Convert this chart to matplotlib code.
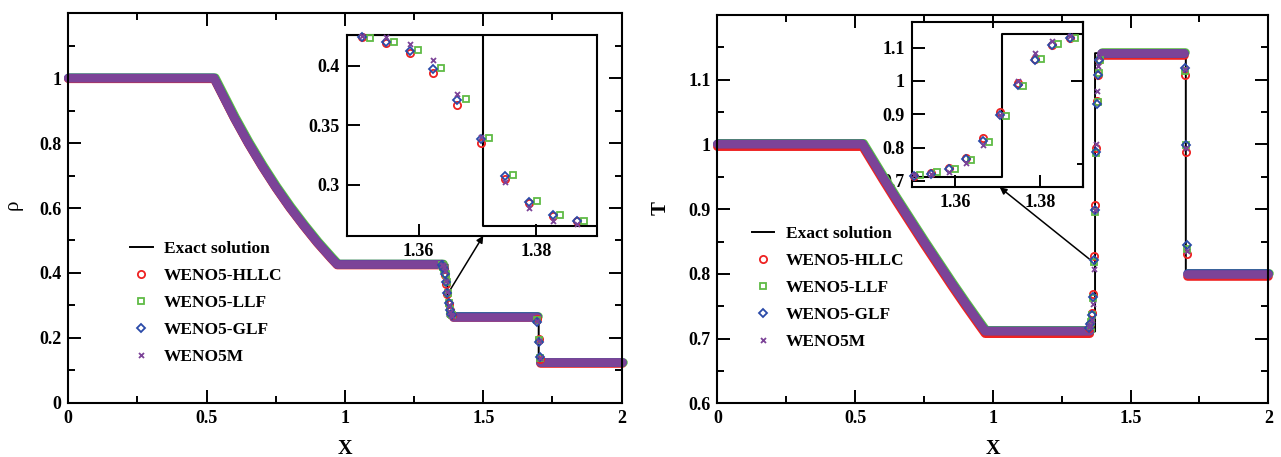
import matplotlib
matplotlib.use('Agg')
import matplotlib.pyplot as plt
import matplotlib.transforms as mtransforms
from matplotlib.lines import Line2D

# ---------------- data ----------------
schemes = ['WENO5-HLLC', 'WENO5-LLF', 'WENO5-GLF', 'WENO5M']

# smooth part (left state + rarefaction fan)
x_smooth = [0.0, 0.527, 0.60, 0.65, 0.70, 0.75, 0.80, 0.85, 0.90, 0.95, 0.972]
rho_smooth = [1.0, 1.0, 0.878, 0.801, 0.730, 0.664, 0.603, 0.547, 0.494, 0.446, 0.426]
T_smooth = [1.0, 1.0, 0.949, 0.915, 0.882, 0.849, 0.817, 0.785, 0.754, 0.724, 0.711]

# discontinuity locations and plateau states
x_contact = 1.371
x_shock = 1.7005
rho_plateau = [0.426, 0.2656, 0.125]
T_plateau = [0.711, 1.141, 0.800]

# where the smeared numerical profiles leave / rejoin the plateaus
band_breaks = [1.352, 1.392, 1.694, 1.706, 2.0]

# cells around the contact (also shown in the insets)
xc = [1.3504, 1.3544, 1.3585, 1.3625, 1.3666, 1.3706, 1.3747, 1.3788, 1.3828, 1.3869]
xc_llf = [1.3518, 1.3558, 1.3599, 1.3638, 1.3680, 1.3720, 1.3760, 1.3801, 1.3841, 1.3882]
rho_c_hllc = [0.4238, 0.4188, 0.4106, 0.3941, 0.3667, 0.3347, 0.3045, 0.2843, 0.2737, 0.2695]
rho_c_llf = [0.4230, 0.4196, 0.4129, 0.3980, 0.3720, 0.3395, 0.3084, 0.2860, 0.2748, 0.2695]
rho_c_glf = [0.4238, 0.4196, 0.4123, 0.3969, 0.3709, 0.3387, 0.3076, 0.2857, 0.2745, 0.2695]
rho_c_m = [0.4252, 0.4238, 0.4182, 0.4048, 0.3762, 0.3398, 0.3025, 0.2801, 0.2698, 0.2670]
T_c_hllc = [0.716, 0.723, 0.739, 0.769, 0.828, 0.906, 0.994, 1.067, 1.107, 1.130]
T_c_llf = [0.719, 0.726, 0.736, 0.763, 0.818, 0.895, 0.986, 1.065, 1.110, 1.130]
T_c_glf = [0.716, 0.722, 0.736, 0.765, 0.821, 0.898, 0.989, 1.063, 1.108, 1.130]
T_c_m = [0.718, 0.721, 0.728, 0.753, 0.808, 0.898, 1.000, 1.083, 1.121, 1.135]

# cells inside the shock
xs = [1.696, 1.700, 1.704]
rho_s_hllc = [0.258, 0.195, 0.135]
rho_s_llf = [0.256, 0.192, 0.138]
rho_s_glf = [0.250, 0.186, 0.140]
rho_s_m = [0.252, 0.190, 0.137]
T_s_hllc = [1.108, 0.989, 0.831]
T_s_llf = [1.113, 0.999, 0.839]
T_s_glf = [1.118, 0.999, 0.845]
T_s_m = [1.116, 0.994, 0.835]

# ---------------- style ----------------
plt.rcParams['font.family'] = ['Liberation Serif', 'DejaVu Serif']
plt.rcParams['font.weight'] = 'bold'

colors = {'WENO5-HLLC': '#ee2222', 'WENO5-LLF': '#5fbb45',
          'WENO5-GLF': '#2a4aa8', 'WENO5M': '#7c4398'}
mstyle = {'WENO5-HLLC': dict(marker='o', ms=5.2),
          'WENO5-LLF': dict(marker='s', ms=4.2),
          'WENO5-GLF': dict(marker='D', ms=4.4),
          'WENO5M': dict(marker='x', ms=3.6)}
TICK_FS = 13
LEG_FS = 12.5


def exact_profile(smooth_y, plateau):
    xe = list(x_smooth) + [x_contact, x_contact, x_shock, x_shock, 2.0]
    ye = list(smooth_y) + [plateau[0], plateau[1], plateau[1], plateau[2], plateau[2]]
    return xe, ye


def band_segments(smooth_y, plateau):
    segs = [(list(x_smooth) + [band_breaks[0]], list(smooth_y) + [plateau[0]]),
            ([band_breaks[1], band_breaks[2]], [plateau[1], plateau[1]]),
            ([band_breaks[3], band_breaks[4]], [plateau[2], plateau[2]])]
    return segs


def draw_markers(ax, cx, cy, sx, sy, name, clip=True):
    st = mstyle[name]
    kw = dict(ls='none', color=colors[name], mfc='none', mec=colors[name],
              mew=1.3, zorder=4, clip_on=clip, **st)
    ax.plot(cx, cy, **kw)
    if sx is not None:
        ax.plot(sx, sy, **kw)


def style_axes(ax, major=9.0, minor=4.5):
    for s in ax.spines.values():
        s.set_linewidth(1.5)
    ax.tick_params(which='both', direction='in', width=1.4, labelsize=TICK_FS, pad=5)
    ax.tick_params(which='major', length=major)
    ax.tick_params(which='minor', length=minor)


fig = plt.figure(figsize=(12.81, 4.57), dpi=100)

panels = [
    dict(rect=[0.0533, 0.1188, 0.4319, 0.8520], smooth=rho_smooth, plateau=rho_plateau,
         contact=[rho_c_hllc, rho_c_llf, rho_c_glf, rho_c_m],
         shock=[rho_s_hllc, rho_s_llf, rho_s_glf, rho_s_m],
         ylim=(0, 1.2), yticks=[0, 0.2, 0.4, 0.6, 0.8, 1.0],
         ylabels=['0', '0.2', '0.4', '0.6', '0.8', '1'],
         yminor=[0.1, 0.3, 0.5, 0.7, 0.9, 1.1],
         ylabel='ρ', ylab_pos=(-0.082, 0.508),
         offsets=[(0, -0.4), (0.9, 0.4), (0, 0.25), (0, 0)],
         inset=[0.2707, 0.4842, 0.1952, 0.4392],
         ixlim=(1.3478, 1.3903), iylim=(0.2571, 0.4258),
         iyticks=[0.3, 0.35, 0.4], iylabels=['0.3', '0.35', '0.4'],
         iright=None,
         arrow_tail=(1.380, 0.347), arrow_head=(1.371, 0.2571),
         leg=(0.1115, 0.415)),
    dict(rect=[0.5600, 0.1175, 0.4301, 0.8497], smooth=T_smooth, plateau=T_plateau,
         contact=[T_c_hllc, T_c_llf, T_c_glf, T_c_m],
         shock=[T_s_hllc, T_s_llf, T_s_glf, T_s_m],
         ylim=(0.6, 1.2), yticks=[0.6, 0.7, 0.8, 0.9, 1.0, 1.1],
         ylabels=['0.6', '0.7', '0.8', '0.9', '1', '1.1'],
         yminor=[0.65, 0.75, 0.85, 0.95, 1.05, 1.15],
         ylabel='T', ylab_pos=(-0.084, 0.502),
         offsets=[(0, -1.6), (0.8, 0.8), (0, 0.4), (0, 0.2)],
         inset=[0.7117, 0.5902, 0.1335, 0.3624],
         ixlim=(1.3498, 1.3900), iylim=(0.681, 1.178),
         iyticks=[0.7, 0.8, 0.9, 1.0, 1.1], iylabels=['0.7', '0.8', '0.9', '1', '1.1'],
         iright=([1.0], [0.75]),
         arrow_tail=(1.350, 0.823), arrow_head=(1.3705, 0.681),
         leg=(0.0624, 0.457)),
]

for p in panels:
    ax = fig.add_axes(p['rect'])
    ax.patch.set_visible(False)
    xe, ye = exact_profile(p['smooth'], p['plateau'])
    ax.plot(xe, ye, color='k', lw=1.4, zorder=1)

    # dense numerical solutions show up as a thick band
    for name, off in zip(schemes, p['offsets']):
        tr = ax.transData + mtransforms.ScaledTranslation(off[0] / 72, off[1] / 72,
                                                          fig.dpi_scale_trans)
        for bx, by in band_segments(p['smooth'], p['plateau']):
            ax.plot(bx, by, color=colors[name], lw=6.2, solid_capstyle='round',
                    solid_joinstyle='round', transform=tr, clip_on=False, zorder=2)

    xcs = [xc, xc_llf, xc, xc]
    for name, cx, cy, sy in zip(schemes, xcs, p['contact'], p['shock']):
        draw_markers(ax, cx, cy, xs, sy, name)

    ax.set_xlim(0, 2)
    ax.set_ylim(*p['ylim'])
    ax.set_xticks([0, 0.5, 1.0, 1.5, 2.0])
    ax.set_xticklabels(['0', '0.5', '1', '1.5', '2'])
    ax.set_xticks([0.25, 0.75, 1.25, 1.75], minor=True)
    ax.set_yticks(p['yticks'])
    ax.set_yticklabels(p['ylabels'])
    ax.set_yticks(p['yminor'], minor=True)
    style_axes(ax, major=9.5, minor=4.8)
    ax.tick_params(which='both', top=True, right=True)
    ax.set_xlabel('X', fontsize=14.5, fontweight='bold')
    ax.xaxis.set_label_coords(0.5, -0.093)
    ax.set_ylabel(p['ylabel'], fontsize=15,
                  fontweight='normal' if p['ylabel'] == 'ρ' else 'bold')
    ax.yaxis.set_label_coords(*p['ylab_pos'])

    handles = [Line2D([], [], color='k', lw=1.4)]
    for name in schemes:
        handles.append(Line2D([], [], ls='none', color=colors[name], mfc='none',
                              mec=colors[name], mew=1.3, **mstyle[name]))
    ax.legend(handles, ['Exact solution'] + schemes, loc='upper left',
              bbox_to_anchor=p['leg'], frameon=False, fontsize=LEG_FS,
              borderpad=0, borderaxespad=0, labelspacing=0.62,
              handlelength=1.3, handletextpad=0.65)

    # zoomed view of the contact discontinuity
    axin = fig.add_axes(p['inset'])
    axin.set_zorder(-1)
    axin.plot(xe, ye, color='k', lw=1.5, zorder=1)
    for name, cx, cy in zip(schemes, xcs, p['contact']):
        draw_markers(axin, cx, cy, None, None, name, clip=False)
    axin.set_xlim(*p['ixlim'])
    axin.set_ylim(*p['iylim'])
    axin.set_xticks([1.36, 1.38])
    axin.set_xticklabels(['1.36', '1.38'])
    axin.set_yticks(p['iyticks'])
    axin.set_yticklabels(p['iylabels'])
    style_axes(axin, major=9.0)
    if p['iright'] is not None:
        sec = axin.secondary_yaxis('right')
        sec.set_yticks(p['iright'][0])
        sec.set_yticks(p['iright'][1], minor=True)
        sec.tick_params(which='both', direction='in', width=1.4, labelright=False)
        sec.tick_params(which='major', length=9.0)
        sec.tick_params(which='minor', length=4.5)
        sec.spines['right'].set_linewidth(1.5)

    ax.annotate('', xy=p['arrow_head'], xycoords=axin.transData,
                xytext=p['arrow_tail'], textcoords='data',
                arrowprops=dict(arrowstyle='-|>', color='k', lw=1.1,
                                shrinkA=0, shrinkB=0, mutation_scale=10))

fig.savefig('out.png', dpi=100)
